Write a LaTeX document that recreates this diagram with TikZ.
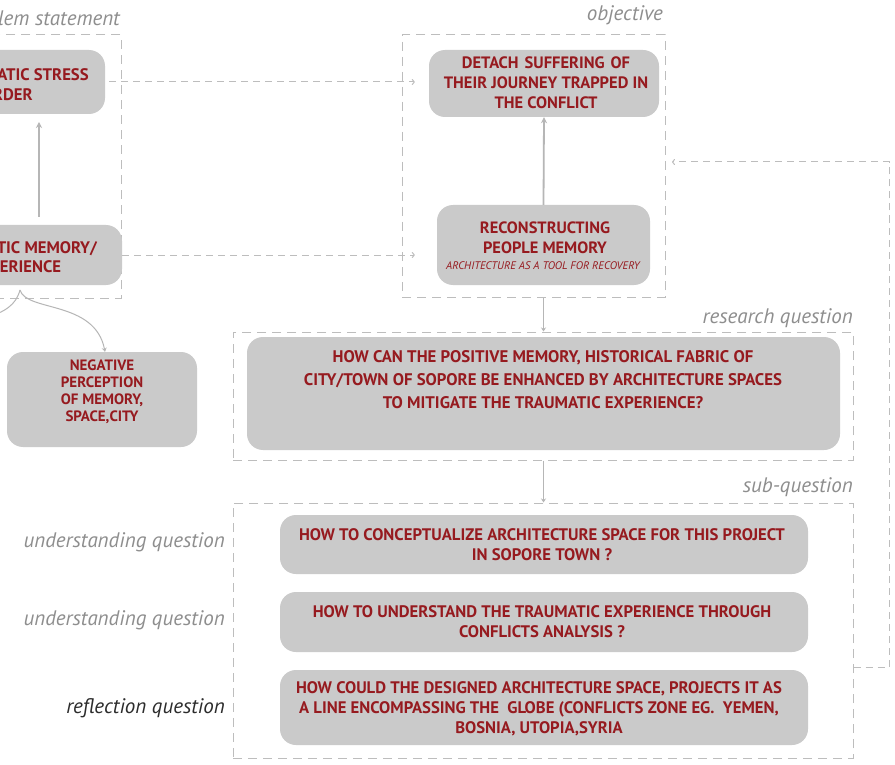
\documentclass[tikz,border=0pt]{standalone}
\usepackage{fontspec}
\setmainfont{PT Sans}
\usetikzlibrary{arrows.meta}
\definecolor{boxgray}{HTML}{CACACA}
\definecolor{txtred}{HTML}{961A1F}
\definecolor{dashgray}{HTML}{BDBDBD}
\definecolor{lblgray}{HTML}{8E8E8E}
\definecolor{arrgray}{HTML}{B6B6B6}
\definecolor{darklbl}{HTML}{2C2C2C}
\begin{document}
\begin{tikzpicture}[x=1pt,y=-1pt,
  card/.style={fill=boxgray, draw=none, rounded corners=16pt, inner sep=0pt},
  redtxt/.style={text=txtred, font=\bfseries\fontsize{16.7}{20}\selectfont, align=center, inner sep=0pt},
  lbl/.style={text=lblgray, font=\itshape\fontsize{21}{24}\selectfont, inner sep=0pt, anchor=base east},
  frame/.style={draw=dashgray, line width=1pt, dash pattern=on 9pt off 6pt, inner sep=0pt},
  dconn/.style={draw=dashgray, line width=1pt, dash pattern=on 7pt off 5pt, -{To[length=3pt,width=6pt]}},
  sconn/.style={draw=arrgray, line width=1.8pt, -{Stealth[length=6pt,width=6pt]}},
  tconn/.style={draw=arrgray, line width=1pt, -{Stealth[length=4pt,width=5pt]}},
]
\useasboundingbox (0,0) rectangle (895,765);
\clip (0,0) rectangle (895,765);
\fill[white] (0,0) rectangle (895,765);

% frames
\node[frame, minimum width=141pt, minimum height=263pt] (probf) at (50.5,166.5) {};
\node[frame, minimum width=263pt, minimum height=262pt] (objf) at (533.5,166) {};
\node[frame, minimum width=620pt, minimum height=128pt] (resf) at (543,396) {};
\node[frame, minimum width=620pt, minimum height=255pt] (subf) at (543,630.5) {};

% frame labels
\node[lbl] (lprob) at (120,26) {problem statement};
\node[lbl] (lobj) at (663,21) {objective};
\node[lbl] (lres) at (853,323) {research question};
\node[lbl] (lsub) at (853,492) {sub-question};
\node[lbl] (lu1) at (225,547) {understanding question};
\node[lbl] (lu2) at (225,625) {understanding question};
\node[lbl, text=darklbl] (lrf) at (225,713) {reflection question};

% cards
\node[card, minimum width=205pt, minimum height=64pt] (ptsd) at (2.5,82) {};
\node[redtxt] (ptsdt) at (-5,85) {POST TRAUMATIC STRESS\\DISORDER};
\node[card, minimum width=190pt, minimum height=60pt] (mem) at (27,255) {};
\node[redtxt, font=\bfseries\fontsize{16.7}{19}\selectfont] (memt) at (16,257) {TRAUMATIC MEMORY/\\EXPERIENCE};
\node[card, minimum width=190pt, minimum height=95pt] (neg) at (102,399.5) {};
\node[redtxt, font=\bfseries\fontsize{15}{17}\selectfont] (negt) at (102,392) {NEGATIVE\\PERCEPTION\\OF MEMORY,\\SPACE,CITY};

\node[card, minimum width=230pt, minimum height=67pt] (det) at (544,83.5) {};
\node[redtxt, font=\bfseries\fontsize{16.5}{20}\selectfont] (dett) at (546,83) {DETACH\hspace{6pt}SUFFERING\hspace{6pt}OF\\THEIR JOURNEY TRAPPED IN\\THE CONFLICT};
\node[card, minimum width=213pt, minimum height=80pt] (rec) at (543.5,245) {};
\node[redtxt, font=\bfseries\fontsize{16.4}{20}\selectfont] (rect) at (545,238) {RECONSTRUCTING\\PEOPLE MEMORY};
\node[text=txtred, font=\itshape\fontsize{11}{12}\selectfont, inner sep=0pt] (recs) at (543,266) {ARCHITECTURE AS A TOOL FOR RECOVERY};

\node[card, minimum width=593pt, minimum height=113pt] (res) at (543.5,393.5) {};
\node[redtxt, font=\bfseries\fontsize{16.8}{23}\selectfont] (rest) at (543,380) {HOW CAN THE POSITIVE MEMORY, HISTORICAL FABRIC OF\\CITY/TOWN OF SOPORE BE ENHANCED BY ARCHITECTURE SPACES\\TO MITIGATE THE TRAUMATIC EXPERIENCE?};

\node[card, minimum width=528pt, minimum height=59pt] (s1) at (544,544.5) {};
\node[redtxt] (s1t) at (542,545) {HOW TO CONCEPTUALIZE ARCHITECTURE SPACE FOR THIS PROJECT\\IN SOPORE TOWN ?};
\node[card, minimum width=528pt, minimum height=60pt] (s2) at (544,622) {};
\node[redtxt] (s2t) at (542,622) {HOW TO UNDERSTAND THE TRAUMATIC EXPERIENCE THROUGH\\CONFLICTS ANALYSIS ?};
\node[card, minimum width=528pt, minimum height=75pt] (s3) at (544,707.5) {};
\node[redtxt] (s3t) at (539,709) {HOW COULD THE DESIGNED ARCHITECTURE SPACE, PROJECTS IT AS\\A LINE ENCOMPASSING THE\ \ GLOBE (CONFLICTS ZONE EG.\ \ YEMEN,\\BOSNIA, UTOPIA,SYRIA};

% connectors
\draw[sconn] (39,217) -- (39,122);
\draw[dconn] (ptsd.east) ++(4,0) -- ([xshift=-14pt]ptsd.east -| det.west);
\draw[dconn] (mem.east) -- ([xshift=-22pt]mem.east -| rec.west);
\draw[sconn] (rec.north) -- (det.south);
\draw[tconn] (rec |- objf.south) -- (rec |- resf.north);
\draw[tconn] (rec |- resf.south) -- (rec |- subf.north);

% feedback loop
\coordinate (lp1) at (889,667);
\coordinate (lp2) at (889,162);
\coordinate (lp3) at (672,162);
\draw[dconn] (subf.east |- lp1) -- (lp1) -- (lp2) -- (lp3);

% branching curve to negative perception
\coordinate (br) at (20,290);
\coordinate (brl) at (-15,318);
\draw[draw=arrgray, line width=1pt] (br) .. controls (16,305) and (5,312) .. (brl);
\draw[tconn] (br) .. controls (26,312) and (95,300) .. (neg.north -| 105,0);
\end{tikzpicture}
\end{document}
